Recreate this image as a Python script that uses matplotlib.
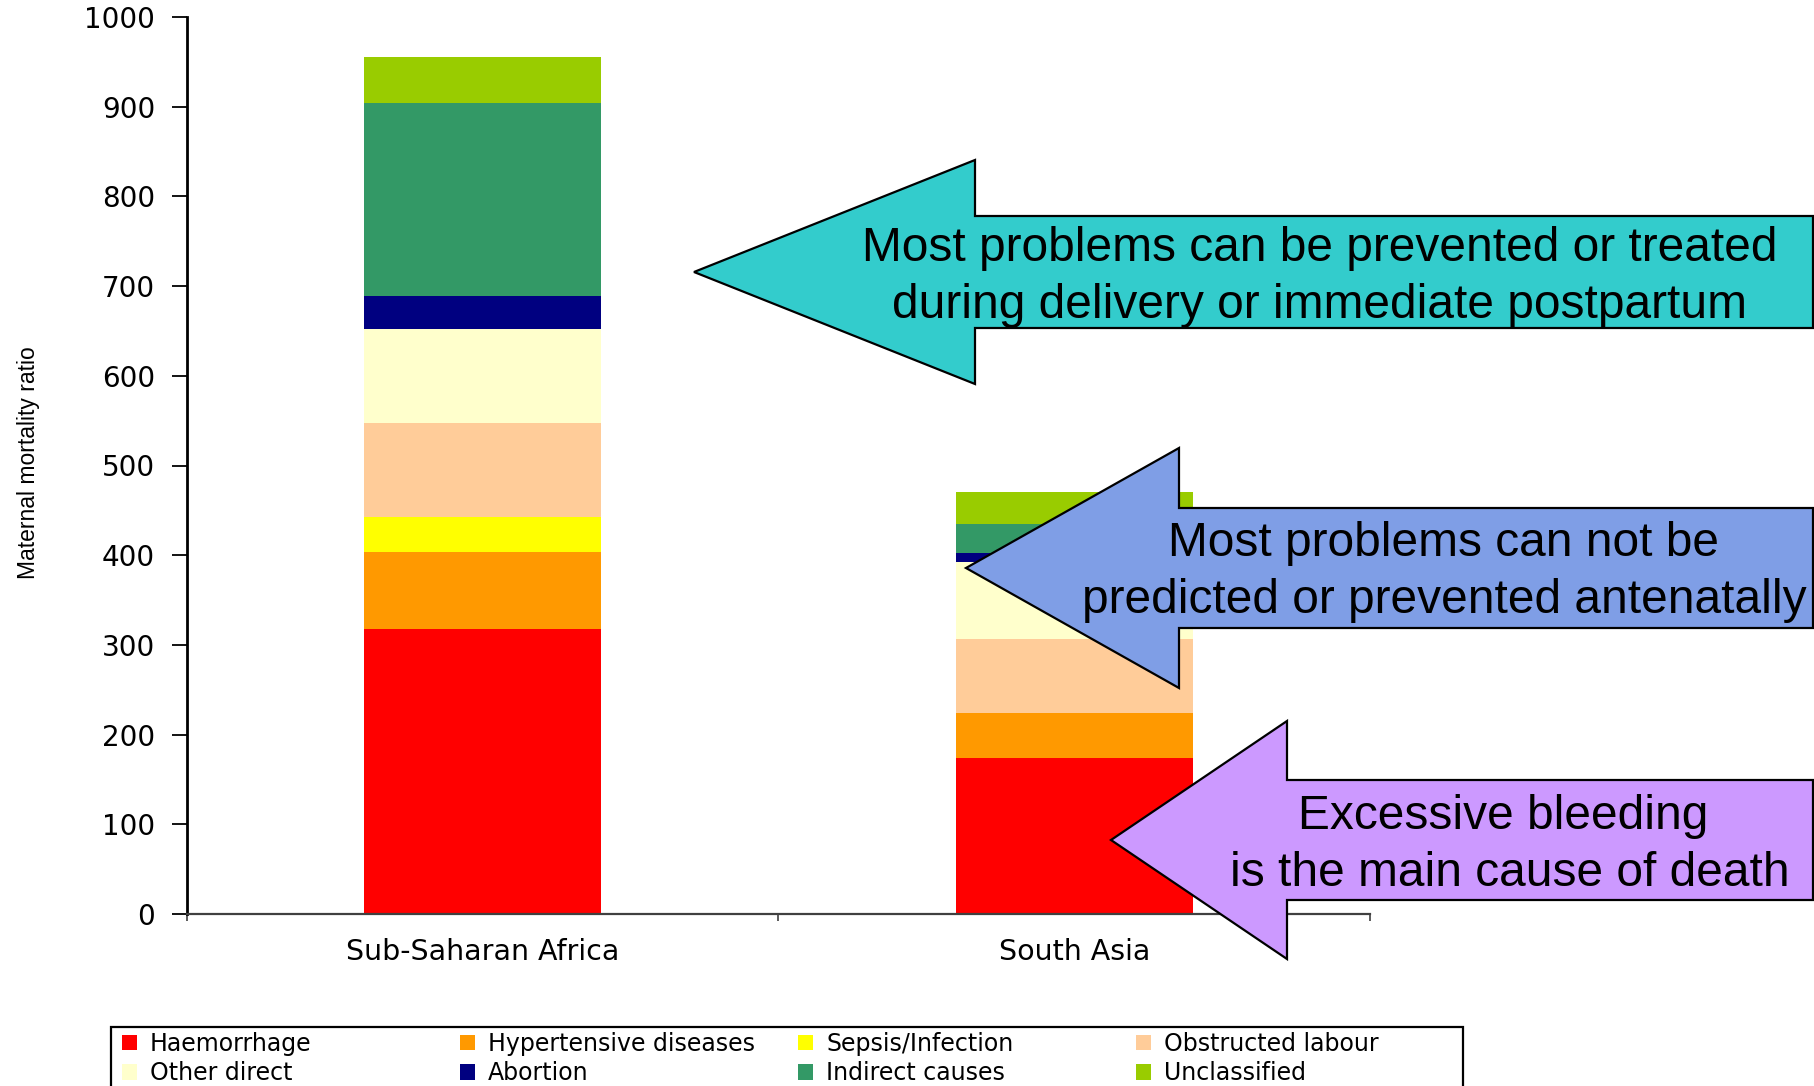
import numpy as np
import matplotlib.pyplot as plt
from matplotlib.patches import Polygon, Rectangle, Patch

# values (maternal deaths per 100 000 live births)
regions = ['Sub-Saharan Africa', 'South Asia']
causes = ['Haemorrhage', 'Hypertensive diseases', 'Sepsis/Infection', 'Obstructed labour',
          'Other direct', 'Abortion', 'Indirect causes', 'Unclassified']
haemorrhage = [318, 174]
hypertensive = [86, 50]
sepsis = [39, 0]
obstructed = [104, 83]
other_direct = [105, 85]
abortion = [37, 10]
indirect = [215, 33]
unclassified = [51, 36]
colors = ['#FF0000', '#FF9900', '#FFFF00', '#FFCC99', '#FFFFCC', '#000080', '#339966', '#99CC00']
yticks = [0, 100, 200, 300, 400, 500, 600, 700, 800, 900, 1000]

# callout arrows: (tip, head back x, head half height, shaft half height, right end), text
callouts = [
    ((694, 272), 975, 112, 56, 1813, '#33CCCC',
     'Most problems can be prevented or treated\nduring delivery or immediate postpartum', (1320, 277)),
    ((966, 568), 1179, 120, 60, 1813, '#7F9EE6',
     'Most problems can not be\npredicted or prevented antenatally', (1444, 572)),
    ((1111, 840), 1287, 119, 60, 1813, '#CC99FF',
     'Excessive bleeding \nis the main cause of death', (1510, 845)),
]

W, H = 1815, 1086
fig = plt.figure(figsize=(W / 100, H / 100), dpi=100)
ax = fig.add_axes([187 / W, 1 - 914 / H, (1370 - 187) / W, (914 - 17) / H])

series = [haemorrhage, hypertensive, sepsis, obstructed, other_direct, abortion, indirect, unclassified]
x = np.arange(len(regions))
bottom = np.zeros(len(regions))
for vals, name, c in zip(series, causes, colors):
    ax.bar(x, vals, width=0.4, bottom=bottom, color=c, edgecolor='none', label=name)
    bottom += np.array(vals)

ax.set_xlim(-0.5, 1.5)
ax.set_ylim(0, 1000)
ax.set_yticks(yticks)
ax.set_yticklabels([str(v) for v in yticks], fontsize=20, family='DejaVu Sans')
ax.tick_params(axis='y', length=11, width=1.3, pad=12, direction='out')
ax.set_xticks(x)
ax.set_xticklabels(regions, fontsize=20.5, family='DejaVu Sans')
ax.tick_params(axis='x', which='major', length=0, pad=17)
ax.set_xticks([-0.5, 0.5, 1.5], minor=True)
ax.tick_params(axis='x', which='minor', length=5, width=1.2, color='#404040')
for s in ['top', 'right']:
    ax.spines[s].set_visible(False)
ax.spines['left'].set_linewidth(2)
ax.spines['left'].set_color('black')
ax.spines['bottom'].set_linewidth(1.6)
ax.spines['bottom'].set_color('#404040')

fig.text(29 / W, 1 - 463 / H, 'Maternal mortality ratio', rotation=90, ha='center', va='center',
         fontsize=16.5, family='Liberation Sans')

# overlay in pixel coordinates for the callouts and the legend frame
ov = fig.add_axes([0, 0, 1, 1])
ov.set_xlim(0, W)
ov.set_ylim(H, 0)
ov.axis('off')
ov.patch.set_alpha(0)

for (tx, ty), hx, hh, sh, rx, fc, txt, (cx, cy) in callouts:
    pts = [(tx, ty), (hx, ty - hh), (hx, ty - sh), (rx, ty - sh),
           (rx, ty + sh), (hx, ty + sh), (hx, ty + hh)]
    ov.add_patch(Polygon(pts, closed=True, facecolor=fc, edgecolor='black', linewidth=1.6))
    ov.text(cx, cy, txt, ha='center', va='center', fontsize=34.5,
            family='Liberation Sans', linespacing=1.34)

# legend: four evenly spaced columns inside one frame, cut off by the bottom edge
ov.add_patch(Rectangle((111, 1027), 1463 - 111, 120, facecolor='white',
                       edgecolor='black', linewidth=1.6))
order = [(0, 4), (1, 5), (2, 6), (3, 7)]
col_x = [117, 455, 793, 1131]
for (a, b), cxp in zip(order, col_x):
    hs = [Patch(facecolor=colors[a], edgecolor='none'), Patch(facecolor=colors[b], edgecolor='none')]
    fig.legend(hs, [causes[a], causes[b]], loc='upper left',
               bbox_to_anchor=(cxp / W, 1 - 1027 / H), frameon=False,
               prop={'family': 'DejaVu Sans', 'size': 17},
               handlelength=0.65, handleheight=0.65, handletextpad=0.55,
               labelspacing=0.22, borderpad=0.2, borderaxespad=0)

fig.savefig('out.png', dpi=100)
